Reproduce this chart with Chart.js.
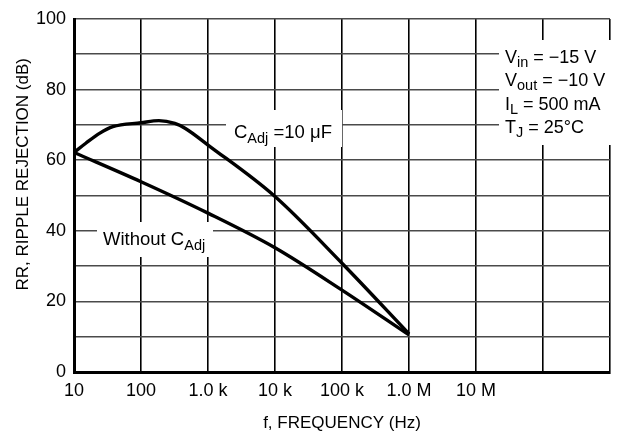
<!DOCTYPE html>
<html>
<head>
<meta charset="utf-8">
<script src="https://cdn.jsdelivr.net/npm/chart.js@4.4.1/dist/chart.umd.min.js"></script>
<style>
  html, body { margin: 0; padding: 0; background: #ffffff; }
  #wrap { width: 618px; height: 436px; }
</style>
</head>
<body>
<div id="wrap"><canvas id="c" width="618" height="436"></canvas></div>
<script>
// ---- data ----
const withCapFreq = [10, 15, 24, 38, 100, 185, 320, 460, 1000, 10000, 100000, 1000000];
const withCapRR   = [62.2, 64.8, 67.6, 69.5, 70.6, 71.2, 70.4, 69.0, 64.3, 49.7, 30.8, 10.8];
const withoutCapFreq = [10, 100, 1000, 10000, 100000, 1000000];
const withoutCapRR   = [62.2, 53.9, 45.0, 35.2, 23.2, 10.5];

const xTickValues = [10, 100, 1000, 10000, 100000, 1000000, 10000000, 100000000, 1000000000];
const xTickLabels = ['10', '100', '1.0 k', '10 k', '100 k', '1.0 M', '10 M', '', ''];
const yTickValues = [0, 10, 20, 30, 40, 50, 60, 70, 80, 90, 100];
const yTickLabels = ['0', '', '20', '', '40', '', '60', '', '80', '', '100'];

const xTitle = 'f, FREQUENCY (Hz)';
const yTitle = 'RR, RIPPLE REJECTION (dB)';
const capLabel = [['C', false], ['Adj', true], [' =10 \u03bcF', false]];
const noCapLabel = [['Without C', false], ['Adj', true]];
const conditions = [
  [['V', false], ['in', true], [' = \u221215 V', false]],
  [['V', false], ['out', true], [' = \u221210 V', false]],
  [['I', false], ['L', true], [' = 500 mA', false]],
  [['T', false], ['J', true], [' = 25\u00b0C', false]]
];

const FONT = "'Liberation Sans', Arial, sans-serif";
Chart.defaults.font.family = FONT;
Chart.defaults.color = '#000';

function toXY(xs, ys) { return xs.map((x, i) => ({ x: x, y: ys[i] })); }

function drawRich(ctx, x, y, parts, size, subSize, subDrop) {
  ctx.textBaseline = 'alphabetic';
  ctx.textAlign = 'left';
  let cx = x;
  for (const [t, sub] of parts) {
    ctx.font = (sub ? subSize : size) + 'px ' + FONT;
    ctx.fillText(t, cx, sub ? y + subDrop : y);
    cx += ctx.measureText(t).width;
  }
}

const labelsPlugin = {
  id: 'labels',
  beforeDatasetsDraw(chart) {
    const ctx = chart.ctx;
    ctx.save();
    ctx.fillStyle = '#fff';
    ctx.fillRect(226, 110, 116, 37);
    ctx.fillRect(97, 222, 116, 35);
    ctx.fillRect(499, 40, 115, 105);
    ctx.fillStyle = '#000';
    drawRich(ctx, 234, 138, capLabel, 18.5, 14.5, 5);
    drawRich(ctx, 103, 244.5, noCapLabel, 18.5, 14.5, 5);
    const baselines = [63.3, 86.3, 109.8, 133.2];
    conditions.forEach((p, i) => drawRich(ctx, 505, baselines[i], p, 18, 14.5, 4));
    ctx.restore();
  }
};

new Chart(document.getElementById('c'), {
  type: 'line',
  data: {
    datasets: [
      { data: toXY(withCapFreq, withCapRR), borderColor: '#000', borderWidth: 3.4,
        pointRadius: 0, fill: false, cubicInterpolationMode: 'monotone' },
      { data: toXY(withoutCapFreq, withoutCapRR), borderColor: '#000', borderWidth: 3.4,
        pointRadius: 0, fill: false, cubicInterpolationMode: 'monotone' }
    ]
  },
  options: {
    responsive: false,
    devicePixelRatio: 1,
    animation: false,
    layout: { padding: { top: 19, right: 2, left: 0, bottom: 0 } },
    plugins: { legend: { display: false }, tooltip: { enabled: false } },
    scales: {
      x: {
        type: 'logarithmic',
        min: 10, max: 1000000000,
        afterBuildTicks: (s) => { s.ticks = xTickValues.map(v => ({ value: v })); },
        afterFit: (s) => { s.height = 64; },
        ticks: {
          autoSkip: false, maxRotation: 0, padding: 8,
          font: { size: 18 }, color: '#000',
          callback: (v, i) => xTickLabels[i]
        },
        grid: { color: '#000', lineWidth: 1.6, drawTicks: false },
        border: { color: '#000', width: 3 },
        title: { display: true, text: xTitle, font: { size: 17, lineHeight: 1.2 },
                 color: '#000', padding: { top: 0, bottom: 2 } }
      },
      y: {
        min: 0, max: 100,
        afterBuildTicks: (s) => { s.ticks = yTickValues.map(v => ({ value: v })); },
        afterFit: (s) => { s.width = 74; },
        ticks: {
          padding: 8, font: { size: 18 }, color: '#000',
          callback: (v, i) => yTickLabels[i]
        },
        grid: { color: '#4a4a4a', lineWidth: 1.6, drawTicks: false },
        border: { color: '#000', width: 3 },
        title: { display: true, text: '         ' + yTitle, font: { size: 17, lineHeight: 1.2 },
                 color: '#000', padding: { top: 13, bottom: 0 } }
      }
    }
  },
  plugins: [labelsPlugin]
});
</script>
</body>
</html>
